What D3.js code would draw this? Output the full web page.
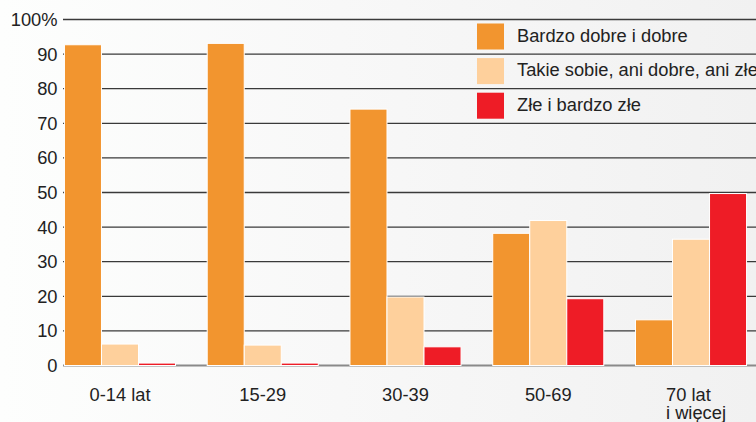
<!DOCTYPE html>
<html>
<head>
<meta charset="utf-8">
<script src="https://cdn.jsdelivr.net/npm/d3@7"></script>
<style>
html,body{margin:0;padding:0;background:#fff;}
svg{display:block;font-family:"Liberation Sans",Arial,sans-serif;}
</style>
</head>
<body>
<svg id="chart" width="756" height="422"></svg>
<script>
const categories = ["0-14 lat", "15-29", "30-39", "50-69", "70 lat|i więcej"];
const seriesNames = ["Bardzo dobre i dobre", "Takie sobie, ani dobre, ani złe", "Złe i bardzo złe"];
const goodValues = [92.7, 93.1, 74.1, 38.2, 13.2];
const mediumValues = [6.2, 5.9, 19.8, 41.9, 36.5];
const badValues = [0.7, 0.7, 5.4, 19.3, 49.7];
const seriesColors = ["#F2952F", "#FED09C", "#EE1C26"];
const yTicks = [0, 10, 20, 30, 40, 50, 60, 70, 80, 90, 100];

const seriesValues = [goodValues, mediumValues, badValues];
const W = 756, H = 422;
const FS = 18.3;
const svg = d3.select("#chart");

// background gradient
const defs = svg.append("defs");
const grad = defs.append("linearGradient").attr("id", "bg").attr("x1", "0").attr("x2", "1").attr("y1", "0").attr("y2", "0");
grad.append("stop").attr("offset", "0").attr("stop-color", "#fdfefd");
grad.append("stop").attr("offset", "0.45").attr("stop-color", "#f8f8f8");
grad.append("stop").attr("offset", "1").attr("stop-color", "#f1f1f1");
svg.append("rect").attr("width", W).attr("height", H).attr("fill", "url(#bg)");

const y = d3.scaleLinear().domain([0, 100]).range([365.5, 19.5]);
const x0 = d3.scaleBand().domain(categories).range([48.6, 762.4]).paddingInner(0.222).paddingOuter(0.111);
const x1 = d3.scaleBand().domain(d3.range(seriesNames.length)).range([0, x0.bandwidth()]);

// gridlines
const grid = svg.append("g");
grid.selectAll("line").data(yTicks.filter(d => d > 0)).join("line")
  .attr("x1", 63).attr("x2", W)
  .attr("y1", d => y(d)).attr("y2", d => y(d))
  .attr("stroke", "#3a3a3a").attr("stroke-width", 1.3);
grid.append("line").attr("x1", 63).attr("x2", W).attr("y1", y(0)).attr("y2", y(0))
  .attr("stroke", "#8a8a8a").attr("stroke-width", 2);

// tick labels
svg.append("g").selectAll("text").data(yTicks).join("text")
  .attr("x", 57.5).attr("y", d => y(d) + 6.5)
  .attr("text-anchor", "end").attr("font-size", FS).attr("fill", "#222")
  .text(d => d === 100 ? "100%" : d);

// bars
const groups = svg.append("g").selectAll("g").data(categories).join("g")
  .attr("transform", d => `translate(${x0(d)},0)`);
groups.selectAll("rect").data((c, ci) => seriesValues.map((vals, si) => ({si, v: vals[ci]}))).join("rect")
  .attr("x", d => x1(d.si))
  .attr("width", x1.bandwidth())
  .attr("y", d => y(d.v))
  .attr("height", d => y(0) - y(d.v))
  .attr("fill", d => seriesColors[d.si])
  .attr("stroke", "#ffffff").attr("stroke-width", 1);

// category labels
const catLabels = svg.append("g").selectAll("text").data(categories).join("text")
  .attr("font-size", FS).attr("fill", "#222")
  .attr("y", 400.5);
catLabels.each(function(d) {
  const parts = d.split("|");
  const t = d3.select(this);
  const cx = x0(d) + x0.bandwidth() / 2;
  if (parts.length === 1) {
    t.attr("x", cx).attr("text-anchor", "middle").text(d);
  } else {
    t.attr("text-anchor", "start");
    parts.forEach((p, i) => {
      t.append("tspan").attr("x", cx - 25).attr("dy", i === 0 ? 0 : 18).text(p);
    });
  }
});

// legend
const legend = svg.append("g").selectAll("g").data(seriesNames).join("g");
legend.append("rect")
  .attr("x", 477).attr("width", 27)
  .attr("y", (d, i) => y(100 - i * 10) + 4).attr("height", 26)
  .attr("fill", (d, i) => seriesColors[i]);
legend.append("text")
  .attr("x", 517).attr("y", (d, i) => y(90 - i * 10) - 12.5)
  .attr("font-size", FS).attr("fill", "#222")
  .text(d => d);
</script>
</body>
</html>
